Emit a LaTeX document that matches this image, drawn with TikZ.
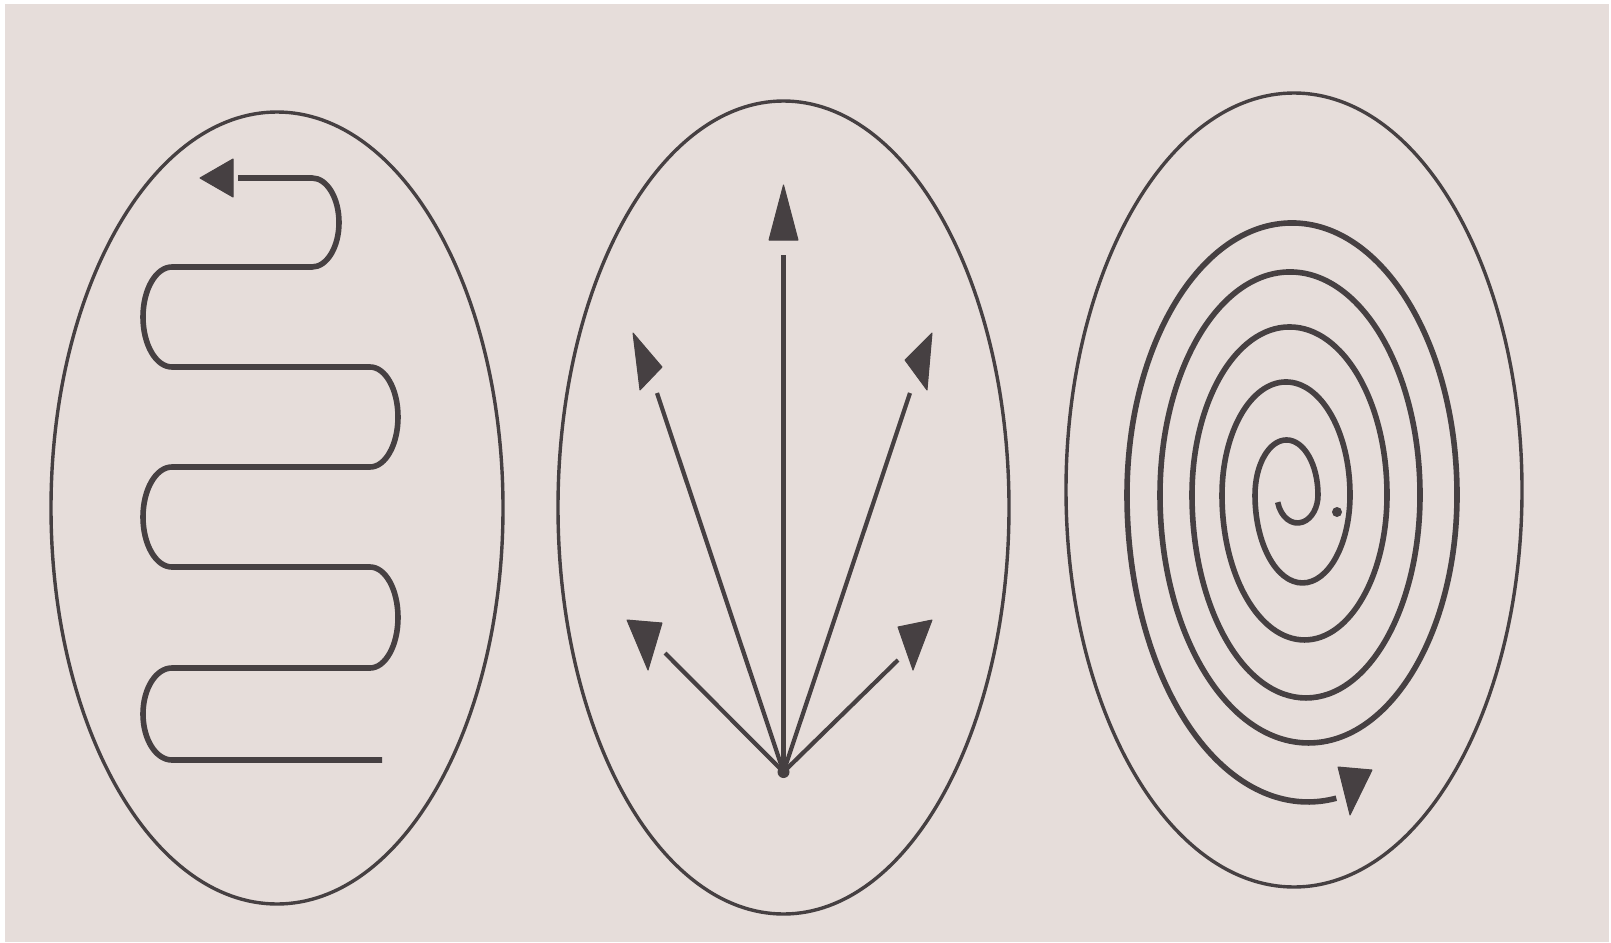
\documentclass[tikz,border=0pt]{standalone}
\definecolor{bg}{RGB}{230,221,218}
\definecolor{ink}{RGB}{70,64,66}
\begin{document}
\begin{tikzpicture}[x=1pt,y=-1pt,
  outline/.style={draw=ink,line width=3.4pt},
  snake/.style={draw=ink,line width=5.6pt,line cap=butt,line join=round},
  ray/.style={draw=ink,line width=4.2pt},
  head/.style={fill=ink,draw=ink,line width=1pt,line join=round}]
\useasboundingbox (0,0) rectangle (1611,942);
\fill[white] (0,0) rectangle (1611,942);
\fill[bg] (5,4) rectangle (1609,942);

% frames
\draw[outline] (277,508) ellipse [x radius=226pt, y radius=396pt];
\draw[outline] (783.5,507.5) ellipse [x radius=225.5pt, y radius=406.5pt];
\draw[outline] (1294,490) ellipse [x radius=228pt, y radius=397pt];

% serpentine
\draw[snake] (238,178) -- (312,178)
  arc[start angle=90,end angle=-90,x radius=27pt,y radius=44.5pt]
  -- (172,267)
  arc[start angle=90,end angle=270,x radius=29pt,y radius=50pt]
  -- (370,367)
  arc[start angle=90,end angle=-90,x radius=28pt,y radius=50pt]
  -- (172,467)
  arc[start angle=90,end angle=270,x radius=29pt,y radius=50pt]
  -- (370,567)
  arc[start angle=90,end angle=-90,x radius=28pt,y radius=50.5pt]
  -- (172,668)
  arc[start angle=90,end angle=270,x radius=29pt,y radius=46pt]
  -- (382,760);
\fill[head] (200,178) -- (233,159) -- (233,197) -- cycle;

% fan
\coordinate (apex) at (783.5,772);
\coordinate (eU) at (783.5,255);
\coordinate (eUL) at (657,393);
\coordinate (eUR) at (910,393);
\coordinate (eLL) at (665,653);
\coordinate (eLR) at (898,660);
\draw[ray] (apex) -- (eU);
\draw[ray] (apex) -- (eUL);
\draw[ray] (apex) -- (eUR);
\draw[ray] (apex) -- (eLL);
\draw[ray] (apex) -- (eLR);
\fill[ink] (apex) circle (6pt);
\fill[head] (783.5,185) -- (769,240) -- (798,240) -- cycle;
\fill[head] (633,333) -- (662,367) -- (640,390) -- cycle;
\fill[head] (932,333) -- (905,360) -- (927,390) -- cycle;
\fill[head] (627,620) -- (662,623) -- (648,670) -- cycle;
\fill[head] (932,620) -- (898,627) -- (913,670) -- cycle;

% spiral
\draw[snake] (1277.7,502.2)
 arc[start angle=195,end angle=360,x radius=20.5pt,y radius=28pt]
 arc[start angle=0,end angle=180,x radius=31.5pt,y radius=55pt]
 arc[start angle=180,end angle=360,x radius=47.5pt,y radius=88pt]
 arc[start angle=0,end angle=180,x radius=64pt,y radius=113pt]
 arc[start angle=180,end angle=360,x radius=82.5pt,y radius=145pt]
 arc[start angle=0,end angle=180,x radius=97.5pt,y radius=168pt]
 arc[start angle=180,end angle=360,x radius=114pt,y radius=203pt]
 arc[start angle=0,end angle=180,x radius=130pt,y radius=223pt]
 arc[start angle=180,end angle=360,x radius=148.5pt,y radius=248pt]
 arc[start angle=0,end angle=180,x radius=165pt,y radius=272pt]
 arc[start angle=180,end angle=279,x radius=181pt,y radius=307pt];
\fill[ink] (1337,512) circle (5pt);
\fill[head] (1338,767) -- (1372,770) -- (1350,815) -- cycle;
\end{tikzpicture}
\end{document}
